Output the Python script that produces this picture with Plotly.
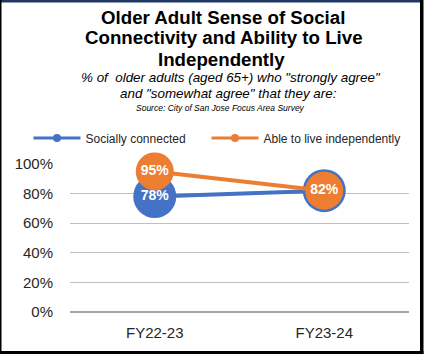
import plotly.graph_objects as go

# Survey data
years = ["FY22-23", "FY23-24"]
socially_connected = [0.78, 0.82]
live_independently = [0.95, 0.82]
series_names = ["Socially connected", "Able to live independently"]
y_ticks = [0, 0.2, 0.4, 0.6, 0.8, 1.0]
y_tick_labels = ["0%", "20%", "40%", "60%", "80%", "100%"]

BLUE = "#4472C4"
ORANGE = "#ED7D31"
FONT = "Liberation Sans, Arial, sans-serif"

W, H = 427, 354
L, R, T, B = 70, 18, 164, 42
PW, PH = W - L - R, H - T - B


def px(x):
    return (x - L) / PW


def py(y):
    return (H - B - y) / PH


def pct(v):
    return f"{round(v * 100)}%"


fig = go.Figure()

fig.add_trace(go.Scatter(
    x=years, y=socially_connected, mode="lines+markers+text",
    text=[pct(v) for v in socially_connected], textposition="middle center",
    textfont=dict(family=FONT, size=14, color="white", weight="bold"),
    line=dict(color=BLUE, width=4),
    marker=dict(size=43, color=BLUE), showlegend=False, cliponaxis=False,
))
fig.add_trace(go.Scatter(
    x=years, y=live_independently, mode="lines+markers+text",
    text=[pct(v) for v in live_independently], textposition="middle center",
    textfont=dict(family=FONT, size=14, color="white", weight="bold"),
    line=dict(color=ORANGE, width=4),
    marker=dict(size=38, color=ORANGE), showlegend=False, cliponaxis=False,
))

# Legend entries with small markers, one legend box per series
for name, color, lg in zip(series_names, [BLUE, ORANGE], ["legend", "legend2"]):
    fig.add_trace(go.Scatter(
        x=[None], y=[None], mode="lines+markers", name=name, legend=lg,
        line=dict(color=color, width=3), marker=dict(size=8, color=color),
    ))

title_lines = [
    ("Older Adult Sense of Social", 25.5, 18.7, "bold", "normal", 223),
    ("Connectivity and Ability to Live", 46, 18.7, "bold", "normal", 223.5),
    ("Independently", 67.5, 18.7, "bold", "normal", 221),
    ("% of  older adults (aged 65+) who \"strongly agree\"", 84.5, 13.4, "normal", "italic", 231),
    ("and \"somewhat agree\" that they are:", 100.5, 13.4, "normal", "italic", 228),
    ("Source: City of San Jose Focus Area Survey", 113, 8.5, "normal", "italic", 220),
]
annotations = []
for text, base, size, weight, style, cx in title_lines:
    annotations.append(dict(
        text=text, x=px(cx), y=py(base), xref="paper", yref="paper",
        xanchor="center", yanchor="bottom", showarrow=False,
        yshift=-size * 0.22,
        font=dict(family=FONT, size=size, color="black", weight=weight, style=style),
    ))

shapes = [
    # navy band along the top
    dict(type="rect", x0=px(0), x1=px(422), y0=py(0), y1=py(2.5),
         xref="paper", yref="paper", fillcolor="#1F3864", line_width=0, layer="above"),
    # black frame
    dict(type="rect", x0=px(0), x1=px(1.5), y0=py(0), y1=py(354),
         xref="paper", yref="paper", fillcolor="black", line_width=0),
    dict(type="rect", x0=px(420), x1=px(423.5), y0=py(0), y1=py(354),
         xref="paper", yref="paper", fillcolor="black", line_width=0),
    dict(type="rect", x0=px(0), x1=px(423.5), y0=py(351), y1=py(354),
         xref="paper", yref="paper", fillcolor="black", line_width=0),
]

legend_style = dict(
    orientation="h", xanchor="left", yanchor="middle",
    font=dict(family=FONT, size=12, color="#262626"),
    itemwidth=47, bgcolor="rgba(0,0,0,0)",
)

fig.update_layout(
    width=W, height=H,
    margin=dict(l=L, r=R, t=T, b=B, autoexpand=False),
    paper_bgcolor="white", plot_bgcolor="white",
    font=dict(family=FONT, color="#262626"),
    annotations=annotations, shapes=shapes,
    legend=dict(x=px(28.5), y=py(138), **legend_style),
    legend2=dict(x=px(206.5), y=py(138), **legend_style),
    xaxis=dict(
        range=[-0.5, 1.5],
        showgrid=False, zeroline=False, showline=False, ticks="",
        tickfont=dict(size=15, color="#262626"), ticklabelstandoff=10,
        fixedrange=True,
    ),
    yaxis=dict(
        range=[0, 1], tickvals=y_ticks, ticktext=y_tick_labels,
        showgrid=True, gridcolor="#BFBFBF", gridwidth=1,
        zeroline=True, zerolinecolor="#A6A6A6", zerolinewidth=2,
        showline=False, ticks="", ticklabelstandoff=16,
        tickfont=dict(size=15, color="#262626"), fixedrange=True,
    ),
)

fig.write_html("out.html")
